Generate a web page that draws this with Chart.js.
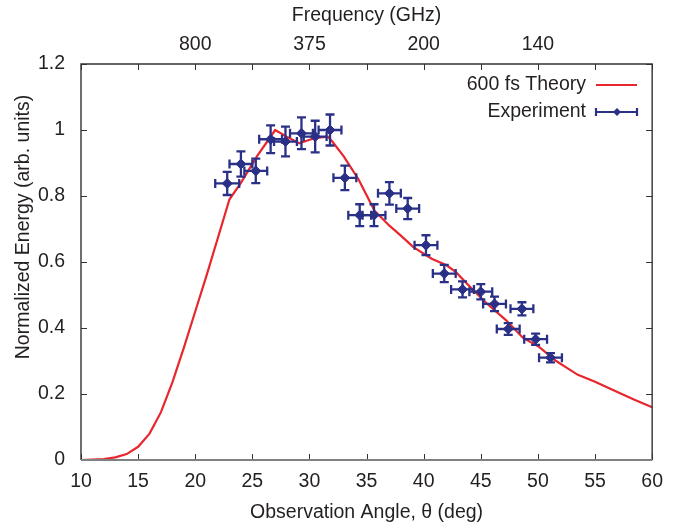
<!DOCTYPE html>
<html>
<head>
<meta charset="utf-8">
<script src="https://cdn.jsdelivr.net/npm/chart.js@4.4.1/dist/chart.umd.min.js"></script>
<style>
  html, body { margin: 0; padding: 0; background: #fff; }
</style>
</head>
<body>
<canvas id="myChart" width="673" height="529"></canvas>
<script>
// 600 fs theory curve
var theoryAngle  = [10, 12, 13, 14, 15, 16, 17, 18, 19, 20, 21, 22, 23, 24, 25.4, 26.5, 27, 28, 29.1, 30.4, 31.6, 32, 33, 34.3, 35.7, 37, 38, 39.1, 40.7, 42, 42.8, 44.2, 45.5, 47.2, 48.7, 50.1, 51.6, 52.5, 53.5, 55, 57, 58.5, 60];
var theoryEnergy = [0, 0.003, 0.008, 0.018, 0.04, 0.08, 0.145, 0.235, 0.34, 0.45, 0.56, 0.675, 0.79, 0.84, 0.92, 0.975, 1.0, 0.98, 0.96, 0.975, 0.98, 0.965, 0.92, 0.85, 0.755, 0.71, 0.68, 0.645, 0.61, 0.59, 0.57, 0.52, 0.475, 0.424, 0.37, 0.343, 0.30, 0.28, 0.258, 0.237, 0.205, 0.182, 0.16];

// experiment points with error bars
var expAngle  = [22.8, 24.0, 25.3, 26.6, 27.9, 29.3, 30.5, 31.8, 33.1, 34.4, 35.65, 37.0, 38.6, 40.2, 41.8, 43.4, 45.0, 46.2, 47.4, 48.6, 49.8, 51.1];
var expEnergy = [0.838, 0.897, 0.876, 0.972, 0.965, 0.99, 0.98, 1.0, 0.855, 0.742, 0.742, 0.808, 0.762, 0.651, 0.565, 0.517, 0.51, 0.473, 0.397, 0.458, 0.366, 0.31];
var expAngleErr  = [1.05, 1.0, 1.0, 1.0, 1.0, 1.0, 1.0, 1.0, 1.0, 1.0, 1.0, 1.0, 1.0, 1.0, 1.0, 1.0, 1.0, 1.0, 1.0, 1.0, 1.0, 1.0];
var expEnergyErr = [0.035, 0.038, 0.037, 0.042, 0.045, 0.048, 0.048, 0.047, 0.037, 0.033, 0.033, 0.034, 0.032, 0.03, 0.026, 0.024, 0.023, 0.022, 0.018, 0.02, 0.017, 0.014];

// top axis: frequency labels at these angles
var freqAngle  = [20, 30, 40, 50];
var freqLabels = ['800', '375', '200', '140'];

var red  = '#e8262d';
var navy = '#2b3087';
var ink  = '#231f20';
var fontFamily = '"Liberation Sans", Arial, Helvetica, sans-serif';

Chart.defaults.font.family = fontFamily;
Chart.defaults.font.size = 19.5;
Chart.defaults.color = ink;

function pts(xs, ys) {
  return xs.map(function (v, i) { return { x: v, y: ys[i] }; });
}

// error bars, inward ticks, frame, legend and y title
var extras = {
  id: 'extras',
  afterDatasetsDraw: function (chart) {
    var ctx = chart.ctx, xs = chart.scales.x, ys = chart.scales.y;
    ctx.save();
    ctx.strokeStyle = navy;
    ctx.lineWidth = 2.3;
    var cap = 4.5;
    for (var i = 0; i < expAngle.length; i++) {
      var px = xs.getPixelForValue(expAngle[i]);
      var py = ys.getPixelForValue(expEnergy[i]);
      var x0 = xs.getPixelForValue(expAngle[i] - expAngleErr[i]);
      var x1 = xs.getPixelForValue(expAngle[i] + expAngleErr[i]);
      var y0 = ys.getPixelForValue(expEnergy[i] - expEnergyErr[i]);
      var y1 = ys.getPixelForValue(expEnergy[i] + expEnergyErr[i]);
      ctx.beginPath();
      ctx.moveTo(x0, py); ctx.lineTo(x1, py);
      ctx.moveTo(x0, py - cap); ctx.lineTo(x0, py + cap);
      ctx.moveTo(x1, py - cap); ctx.lineTo(x1, py + cap);
      ctx.moveTo(px, y0); ctx.lineTo(px, y1);
      ctx.moveTo(px - cap, y0); ctx.lineTo(px + cap, y0);
      ctx.moveTo(px - cap, y1); ctx.lineTo(px + cap, y1);
      ctx.stroke();
    }
    ctx.restore();
  },
  afterDraw: function (chart) {
    var ctx = chart.ctx, a = chart.chartArea;
    var xs = chart.scales.x, ys = chart.scales.y;
    ctx.save();
    // ticks pointing inward
    ctx.strokeStyle = '#333';
    ctx.lineWidth = 1;
    var tl = 6;
    ctx.beginPath();
    xs.ticks.forEach(function (t) {
      var px = Math.round(xs.getPixelForValue(t.value)) + 0.5;
      ctx.moveTo(px, a.bottom); ctx.lineTo(px, a.bottom - tl);
      ctx.moveTo(px, a.top); ctx.lineTo(px, a.top + tl);
    });
    ys.ticks.forEach(function (t) {
      var py = Math.round(ys.getPixelForValue(t.value)) + 0.5;
      ctx.moveTo(a.left, py); ctx.lineTo(a.left + tl, py);
      ctx.moveTo(a.right, py); ctx.lineTo(a.right - tl, py);
    });
    ctx.stroke();
    // frame
    ctx.lineWidth = 1.4;
    ctx.strokeStyle = '#333';
    ctx.beginPath();
    ctx.moveTo(a.left, a.bottom); ctx.lineTo(a.left, a.top);
    ctx.lineTo(a.right, a.top); ctx.lineTo(a.right, a.bottom);
    ctx.stroke();
    ctx.strokeStyle = '#808080';
    ctx.lineWidth = 2;
    ctx.beginPath();
    ctx.moveTo(a.left, a.bottom); ctx.lineTo(a.right, a.bottom);
    ctx.stroke();

    // legend
    ctx.font = '19.5px ' + fontFamily;
    ctx.fillStyle = ink;
    ctx.textAlign = 'right';
    ctx.textBaseline = 'middle';
    ctx.fillText('600 fs Theory', 586, 85);
    ctx.fillText('Experiment', 586, 112);
    ctx.strokeStyle = red;
    ctx.lineWidth = 2.2;
    ctx.beginPath(); ctx.moveTo(596, 85); ctx.lineTo(637, 85); ctx.stroke();
    ctx.strokeStyle = navy;
    ctx.lineWidth = 2.2;
    ctx.beginPath();
    ctx.moveTo(596, 112); ctx.lineTo(637, 112);
    ctx.moveTo(596, 108); ctx.lineTo(596, 116);
    ctx.moveTo(637, 108); ctx.lineTo(637, 116);
    ctx.stroke();
    ctx.fillStyle = navy;
    ctx.beginPath();
    ctx.moveTo(617, 108); ctx.lineTo(621, 112); ctx.lineTo(617, 116); ctx.lineTo(613, 112);
    ctx.closePath(); ctx.fill();

    // y title
    ctx.fillStyle = ink;
    ctx.translate(24, 227);
    ctx.rotate(-Math.PI / 2);
    ctx.textAlign = 'center';
    ctx.fillText('Normalized Energy (arb. units)', 0, 0);
    ctx.restore();
  }
};

var config = {
  type: 'scatter',
  data: {
    datasets: [
      {
        label: 'Experiment',
        data: pts(expAngle, expEnergy),
        pointStyle: 'rectRot',
        pointRadius: 5,
        backgroundColor: navy,
        borderColor: navy,
        borderWidth: 1,
        xAxisID: 'x',
        yAxisID: 'y'
      },
      {
        label: '600 fs Theory',
        type: 'line',
        data: pts(theoryAngle, theoryEnergy),
        borderColor: red,
        borderWidth: 2.2,
        pointRadius: 0,
        tension: 0,
        fill: false,
        xAxisID: 'x',
        yAxisID: 'y'
      }
    ]
  },
  options: {
    responsive: false,
    animation: false,
    layout: { padding: { left: 0, right: 19, top: 0, bottom: 0 } },
    plugins: { legend: { display: false }, tooltip: { enabled: false } },
    scales: {
      x: {
        type: 'linear', position: 'bottom', min: 10, max: 60,
        grid: { display: false, drawTicks: false },
        border: { display: false },
        ticks: { stepSize: 5, autoSkip: false, maxRotation: 0, padding: 10 },
        title: { display: true, text: 'Observation Angle, \u03b8 (deg)', padding: { top: 0, bottom: 5 } },
        afterFit: function (s) { s.height = 69; }
      },
      x2: {
        type: 'linear', position: 'top', min: 10, max: 60,
        grid: { display: false, drawTicks: false },
        border: { display: false },
        ticks: {
          stepSize: 5, autoSkip: false, maxRotation: 0, padding: 8,
          callback: function (v) {
            var k = freqAngle.indexOf(v);
            return k < 0 ? '' : freqLabels[k];
          }
        },
        title: { display: true, text: 'Frequency (GHz)', padding: { top: 4, bottom: 0 } },
        afterFit: function (s) { s.height = 64; }
      },
      y: {
        type: 'linear', min: 0, max: 1.2,
        grid: { display: false, drawTicks: false },
        border: { display: false },
        ticks: {
          stepSize: 0.2, padding: 16,
          callback: function (v) { return String(+v.toFixed(1)); }
        },
        afterFit: function (s) { s.width = 81; }
      }
    }
  },
  plugins: [extras]
};

var myChart = new Chart(document.getElementById('myChart'), config);
</script>
</body>
</html>
